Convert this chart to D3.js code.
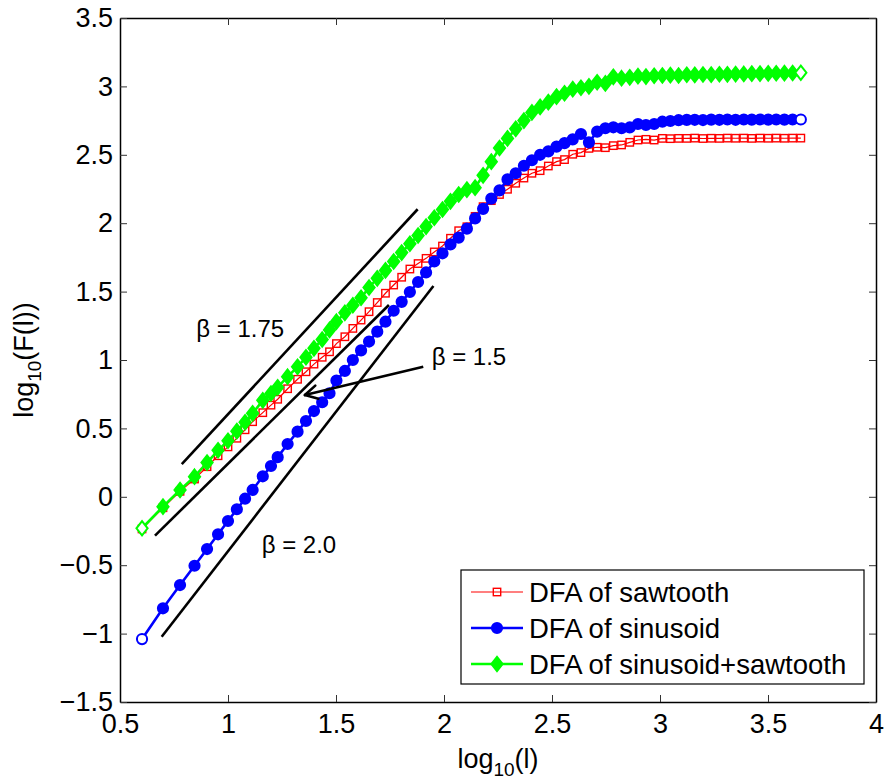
<!DOCTYPE html>
<html>
<head>
<meta charset="utf-8">
<script src="https://cdn.jsdelivr.net/npm/d3@7"></script>
<style>
  body { margin: 0; background: #fff; }
  text { font-family: "Liberation Sans", Arial, Helvetica, sans-serif; }
</style>
</head>
<body>
<div id="chart"></div>
<script>
// log10(l) positions shared by all three curves
var logL = [0.602, 0.699, 0.778, 0.845, 0.903, 0.954, 1.000, 1.041, 1.079, 1.114, 1.161, 1.199, 1.230, 1.276, 1.322, 1.361, 1.398, 1.436, 1.470, 1.502, 1.541,
  1.578, 1.616, 1.653, 1.691, 1.729, 1.767, 1.804, 1.842, 1.880, 1.917, 1.955, 1.993, 2.030, 2.068, 2.106, 2.144, 2.181, 2.219, 2.257, 2.294,
  2.332, 2.370, 2.407, 2.445, 2.483, 2.521, 2.558, 2.596, 2.634, 2.671, 2.709, 2.747, 2.784, 2.822, 2.860, 2.898, 2.935, 2.973, 3.011, 3.048,
  3.086, 3.124, 3.161, 3.199, 3.237, 3.275, 3.312, 3.350, 3.388, 3.425, 3.463, 3.501, 3.538, 3.576, 3.614, 3.652];

// log10(F(l)) for each signal
var sawtooth = [-0.235, -0.08, 0.04, 0.13, 0.22, 0.30, 0.365, 0.428, 0.49, 0.549, 0.615, 0.67, 0.713, 0.79, 0.859, 0.914, 0.97, 1.02, 1.06, 1.12, 1.17,
  1.231, 1.292, 1.353, 1.42, 1.488, 1.548, 1.605, 1.665, 1.705, 1.743, 1.79, 1.833, 1.89, 1.945, 1.974, 2.05, 2.121, 2.165, 2.21, 2.248,
  2.292, 2.33, 2.365, 2.384, 2.418, 2.45, 2.465, 2.504, 2.516, 2.547, 2.555, 2.552, 2.567, 2.572, 2.591, 2.608, 2.613, 2.608, 2.62, 2.618,
  2.62, 2.62, 2.622, 2.619, 2.621, 2.62, 2.622, 2.621, 2.622, 2.62, 2.622, 2.621, 2.622, 2.621, 2.622, 2.622];

var sinusoid = [-1.04, -0.815, -0.645, -0.504, -0.382, -0.274, -0.177, -0.091, -0.014, 0.05, 0.15, 0.225, 0.29, 0.386, 0.476, 0.554, 0.627, 0.691, 0.757, 0.85, 0.92,
  1.00, 1.07, 1.135, 1.207, 1.28, 1.36, 1.425, 1.497, 1.57, 1.64, 1.72, 1.78, 1.845, 1.895, 1.96, 2.035, 2.105, 2.18, 2.24, 2.32,
  2.365, 2.42, 2.46, 2.50, 2.525, 2.56, 2.585, 2.613, 2.652, 2.591, 2.669, 2.694, 2.701, 2.694, 2.70, 2.725, 2.718, 2.725, 2.742, 2.747,
  2.753, 2.755, 2.756, 2.754, 2.757, 2.756, 2.758, 2.756, 2.758, 2.757, 2.758, 2.757, 2.758, 2.757, 2.758, 2.758];

var combined = [-0.23, -0.072, 0.05, 0.147, 0.25, 0.34, 0.41, 0.48, 0.545, 0.61, 0.705, 0.755, 0.80, 0.878, 0.95, 1.02, 1.085, 1.15, 1.22, 1.28, 1.345,
  1.40, 1.455, 1.53, 1.597, 1.655, 1.72, 1.785, 1.85, 1.91, 1.975, 2.04, 2.10, 2.16, 2.21, 2.245, 2.26, 2.35, 2.45, 2.55, 2.62,
  2.69, 2.75, 2.81, 2.85, 2.885, 2.925, 2.95, 2.98, 2.99, 3.00, 3.03, 3.022, 3.07, 3.06, 3.066, 3.075, 3.072, 3.078, 3.08, 3.082,
  3.08, 3.085, 3.084, 3.087, 3.086, 3.089, 3.088, 3.09, 3.091, 3.093, 3.093, 3.095, 3.096, 3.097, 3.098, 3.10];

var seriesNames = ["DFA of sawtooth", "DFA of sinusoid", "DFA of sinusoid+sawtooth"];
var xTicks = [0.5, 1, 1.5, 2, 2.5, 3, 3.5, 4];
var yTicks = [-1.5, -1, -0.5, 0, 0.5, 1, 1.5, 2, 2.5, 3, 3.5];

// reference slope lines [x0, y0, x1, y1]
var slopeLines = [
  [0.786, 0.238, 1.878, 2.102],
  [0.662, -0.284, 1.745, 1.402],
  [0.693, -1.023, 1.951, 1.541]
];
var slopeLabels = ["\u03b2 = 1.75", "\u03b2 = 1.5", "\u03b2 = 2.0"];
var labelPos = [[0.853, 1.168], [1.943, 0.963], [1.156, -0.411]];
var arrowFrom = [1.904, 0.951];
var arrowTo = [1.356, 0.744];

var svgWidth = 886;
var svgHeight = 783;
var margin = {top: 18, right: 10, bottom: 81, left: 120};
var width = svgWidth - margin.left - margin.right;
var height = svgHeight - margin.top - margin.bottom;

var svg = d3.select("#chart").append("svg")
  .attr("width", svgWidth)
  .attr("height", svgHeight);

var g = svg.append("g")
  .attr("transform", `translate(${margin.left}, ${margin.top})`);

var x = d3.scaleLinear().domain([0.5, 4]).range([0, width]);
var y = d3.scaleLinear().domain([-1.5, 3.5]).range([height, 0]);

var fmt = d3.format("");

// axes, ticks pointing inward
g.append("g").attr("class", "axis")
  .attr("transform", `translate(0, ${height})`)
  .call(d3.axisBottom(x).tickValues(xTicks).tickFormat(fmt).tickSizeInner(-7).tickSizeOuter(0).tickPadding(12));
g.append("g").attr("class", "axis")
  .call(d3.axisTop(x).tickValues(xTicks).tickFormat("").tickSizeInner(-7).tickSizeOuter(0));
g.append("g").attr("class", "axis")
  .call(d3.axisLeft(y).tickValues(yTicks).tickFormat(fmt).tickSizeInner(-7).tickSizeOuter(0).tickPadding(7));
g.append("g").attr("class", "axis")
  .attr("transform", `translate(${width}, 0)`)
  .call(d3.axisRight(y).tickValues(yTicks).tickFormat("").tickSizeInner(-7).tickSizeOuter(0));

g.selectAll(".axis text").style("font-size", "27px").attr("fill", "#000");
g.selectAll(".axis .domain").attr("stroke", "#000").attr("stroke-width", 1.5);
g.selectAll(".axis .tick line").attr("stroke", "#333").attr("stroke-width", 1);

// series
var line = d3.line()
  .x(d => x(d[0]))
  .y(d => y(d[1]));

function pairs(vals) {
  return logL.map((v, i) => [v, vals[i]]);
}

var sawData = pairs(sawtooth);
var sinData = pairs(sinusoid);
var comData = pairs(combined);

// sawtooth: thin red, open squares
g.append("path").datum(sawData)
  .attr("d", line).attr("fill", "none").attr("stroke", "#ff0000").attr("stroke-width", 1.2);
g.selectAll(".sq").data(sawData).enter().append("rect")
  .attr("class", "sq")
  .attr("x", d => x(d[0]) - 3.7).attr("y", d => y(d[1]) - 3.7)
  .attr("width", 7.4).attr("height", 7.4)
  .attr("fill", "none").attr("stroke", "#ff0000").attr("stroke-width", 1.4);

// sinusoid: blue, filled circles
g.append("path").datum(sinData)
  .attr("d", line).attr("fill", "none").attr("stroke", "#0000ff").attr("stroke-width", 2.6);
g.selectAll(".ci").data(sinData).enter().append("circle")
  .attr("class", "ci")
  .attr("cx", d => x(d[0])).attr("cy", d => y(d[1])).attr("r", 5.1)
  .attr("fill", (d, i) => (i === 0 || i === sinData.length - 1) ? "#fff" : "#0000ff")
  .attr("stroke", "#0000ff").attr("stroke-width", 2);

// sinusoid+sawtooth: green, filled diamonds
var diamond = "M0,-7.2L5.6,0L0,7.2L-5.6,0Z";
g.append("path").datum(comData)
  .attr("d", line).attr("fill", "none").attr("stroke", "#00ff00").attr("stroke-width", 2.6);
g.selectAll(".di").data(comData).enter().append("path")
  .attr("class", "di")
  .attr("d", diamond)
  .attr("transform", d => `translate(${x(d[0])}, ${y(d[1])})`)
  .attr("fill", (d, i) => (i === 0 || i === comData.length - 1) ? "#fff" : "#00ff00")
  .attr("stroke", "#00ff00").attr("stroke-width", 2);

// slope guide lines
g.selectAll(".guide").data(slopeLines).enter().append("line")
  .attr("class", "guide")
  .attr("x1", d => x(d[0])).attr("y1", d => y(d[1]))
  .attr("x2", d => x(d[2])).attr("y2", d => y(d[3]))
  .attr("stroke", "#000").attr("stroke-width", 2.6);

g.selectAll(".beta").data(slopeLabels).enter().append("text")
  .attr("class", "beta")
  .attr("x", (d, i) => x(labelPos[i][0]))
  .attr("y", (d, i) => y(labelPos[i][1]))
  .style("font-size", "24px")
  .text(d => d);

// arrow pointing at the middle line
var ax1 = x(arrowFrom[0]), ay1 = y(arrowFrom[1]);
var ax2 = x(arrowTo[0]), ay2 = y(arrowTo[1]);
var ang = Math.atan2(ay2 - ay1, ax2 - ax1);
g.append("line")
  .attr("x1", ax1).attr("y1", ay1).attr("x2", ax2).attr("y2", ay2)
  .attr("stroke", "#000").attr("stroke-width", 2.6);
[0.5, -0.5].forEach(function(da) {
  g.append("line")
    .attr("x1", ax2).attr("y1", ay2)
    .attr("x2", ax2 - 14 * Math.cos(ang + da))
    .attr("y2", ay2 - 14 * Math.sin(ang + da))
    .attr("stroke", "#000").attr("stroke-width", 2.6)
    .attr("stroke-linecap", "round");
});

// axis labels
var xl = svg.append("text")
  .attr("x", margin.left + width / 2)
  .attr("y", 768)
  .attr("text-anchor", "middle")
  .style("font-size", "27px");
xl.append("tspan").text("log");
xl.append("tspan").attr("dy", 8).style("font-size", "19px").text("10");
xl.append("tspan").attr("dy", -8).text("(l)");

var yl = svg.append("text")
  .attr("transform", `translate(33, ${margin.top + height / 2}) rotate(-90)`)
  .attr("text-anchor", "middle")
  .style("font-size", "27px");
yl.append("tspan").text("log");
yl.append("tspan").attr("dy", 8).style("font-size", "19px").text("10");
yl.append("tspan").attr("dy", -8).text("(F(l))");

// legend
var legend = svg.append("g").attr("transform", "translate(461, 570)");
legend.append("rect")
  .attr("width", 403).attr("height", 114)
  .attr("fill", "#fff").attr("stroke", "#000").attr("stroke-width", 1.2);

var legColors = ["#ff0000", "#0000ff", "#00ff00"];
var legWidths = [1.2, 2.6, 2.6];
seriesNames.forEach(function(name, i) {
  var ly = 22 + i * 36;
  legend.append("line")
    .attr("x1", 10).attr("x2", 62).attr("y1", ly).attr("y2", ly)
    .attr("stroke", legColors[i]).attr("stroke-width", legWidths[i]);
  if (i === 0) {
    legend.append("rect").attr("x", 36 - 3.7).attr("y", ly - 3.7).attr("width", 7.4).attr("height", 7.4)
      .attr("fill", "none").attr("stroke", legColors[i]).attr("stroke-width", 1.4);
  } else if (i === 1) {
    legend.append("circle").attr("cx", 36).attr("cy", ly).attr("r", 5.1)
      .attr("fill", legColors[i]).attr("stroke", legColors[i]).attr("stroke-width", 2);
  } else {
    legend.append("path").attr("d", diamond).attr("transform", `translate(36, ${ly})`)
      .attr("fill", legColors[i]).attr("stroke", legColors[i]).attr("stroke-width", 2);
  }
  legend.append("text")
    .attr("x", 68).attr("y", ly + 10)
    .style("font-size", "27.5px")
    .text(name);
});
</script>
</body>
</html>
